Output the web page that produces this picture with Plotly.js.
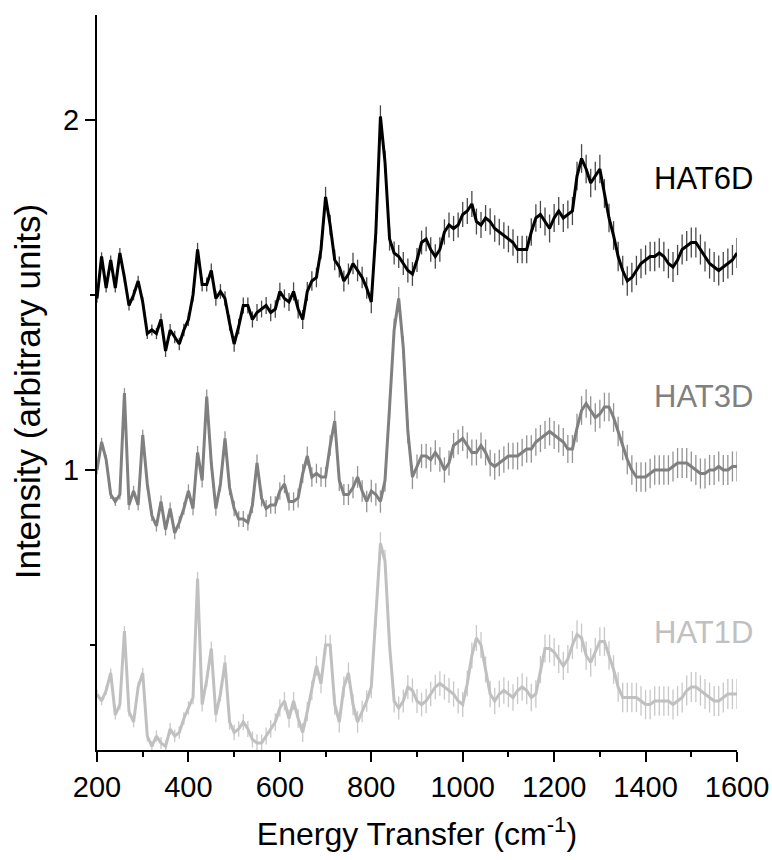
<!DOCTYPE html>
<html>
<head>
<meta charset="utf-8">
<script src="https://cdn.plot.ly/plotly-3.0.1.min.js"></script>
<style>html,body{margin:0;padding:0;background:#fff;}#chart{width:772px;height:860px;}</style>
</head>
<body>
<div id="chart"></div>
<script>
// Energy transfer grid (cm^-1), 200 .. 1600 step 10
const energy = [200,210,220,230,240,250,260,270,280,290,
300,310,320,330,340,350,360,370,380,390,
400,410,420,430,440,450,460,470,480,490,
500,510,520,530,540,550,560,570,580,590,
600,610,620,630,640,650,660,670,680,690,
700,710,720,730,740,750,760,770,780,790,
800,810,820,830,840,850,860,870,880,890,
900,910,920,930,940,950,960,970,980,990,
1000,1010,1020,1030,1040,1050,1060,1070,1080,1090,
1100,1110,1120,1130,1140,1150,1160,1170,1180,1190,
1200,1210,1220,1230,1240,1250,1260,1270,1280,1290,
1300,1310,1320,1330,1340,1350,1360,1370,1380,1390,
1400,1410,1420,1430,1440,1450,1460,1470,1480,1490,
1500,1510,1520,1530,1540,1550,1560,1570,1580,1590,
1600];

const hat6d = [1.49,1.61,1.52,1.60,1.52,1.62,1.55,1.47,1.50,1.54,
1.48,1.39,1.40,1.39,1.43,1.34,1.40,1.38,1.36,1.40,
1.43,1.50,1.63,1.53,1.53,1.57,1.49,1.51,1.49,1.42,
1.36,1.41,1.47,1.47,1.43,1.45,1.46,1.47,1.45,1.46,
1.51,1.49,1.48,1.51,1.46,1.43,1.51,1.54,1.55,1.63,
1.78,1.70,1.60,1.58,1.54,1.56,1.59,1.57,1.55,1.52,
1.48,1.68,2.01,1.88,1.66,1.62,1.61,1.59,1.57,1.56,
1.60,1.65,1.66,1.63,1.61,1.63,1.68,1.70,1.69,1.70,
1.73,1.74,1.76,1.71,1.70,1.72,1.71,1.69,1.68,1.67,
1.66,1.65,1.63,1.63,1.63,1.68,1.72,1.73,1.71,1.69,
1.72,1.74,1.72,1.73,1.74,1.84,1.89,1.86,1.82,1.84,
1.86,1.79,1.72,1.67,1.61,1.57,1.54,1.55,1.57,1.59,
1.60,1.61,1.61,1.62,1.61,1.59,1.58,1.60,1.63,1.64,
1.65,1.65,1.63,1.61,1.59,1.58,1.57,1.58,1.59,1.60,
1.62];

const hat3d = [1.00,1.08,1.03,0.93,0.91,0.93,1.22,0.90,0.94,0.90,
1.10,0.96,0.87,0.84,0.91,0.83,0.89,0.82,0.85,0.89,
0.94,0.89,1.05,0.97,1.21,1.02,0.89,0.96,1.09,0.95,
0.89,0.86,0.86,0.85,0.90,1.02,0.92,0.89,0.90,0.90,
0.94,0.96,0.91,0.91,0.92,0.99,1.04,0.98,0.99,0.98,
0.98,1.07,1.14,0.97,0.93,0.93,0.95,0.98,0.94,0.91,
0.94,0.93,0.91,0.97,1.18,1.40,1.49,1.35,1.11,0.98,
1.01,1.04,1.04,1.03,1.05,1.03,1.00,1.02,1.07,1.08,
1.09,1.07,1.05,1.05,1.07,1.05,1.02,1.01,1.02,1.03,
1.04,1.04,1.04,1.05,1.06,1.06,1.08,1.09,1.10,1.11,
1.10,1.09,1.08,1.06,1.06,1.12,1.17,1.19,1.17,1.15,
1.16,1.18,1.18,1.15,1.11,1.07,1.03,1.00,0.98,0.98,
0.98,0.99,1.00,1.00,1.00,1.00,1.01,1.02,1.02,1.02,
1.01,1.00,0.99,0.99,1.00,1.00,1.01,1.00,1.00,1.01,
1.01];

const hat1d = [0.36,0.34,0.37,0.42,0.30,0.33,0.54,0.31,0.28,0.38,
0.42,0.24,0.21,0.24,0.22,0.21,0.26,0.24,0.25,0.29,
0.32,0.35,0.69,0.33,0.40,0.49,0.30,0.36,0.45,0.28,
0.25,0.26,0.28,0.26,0.23,0.22,0.22,0.24,0.26,0.28,
0.32,0.34,0.29,0.34,0.29,0.25,0.31,0.37,0.44,0.39,
0.50,0.50,0.33,0.28,0.38,0.42,0.33,0.28,0.31,0.34,
0.38,0.58,0.79,0.74,0.50,0.34,0.32,0.34,0.38,0.37,
0.34,0.33,0.34,0.36,0.38,0.39,0.38,0.37,0.36,0.34,
0.33,0.39,0.47,0.52,0.50,0.43,0.36,0.34,0.36,0.37,
0.36,0.35,0.37,0.38,0.37,0.35,0.36,0.43,0.49,0.49,
0.48,0.46,0.44,0.46,0.50,0.53,0.52,0.47,0.45,0.48,
0.51,0.51,0.47,0.43,0.38,0.35,0.35,0.35,0.35,0.34,
0.33,0.33,0.34,0.34,0.34,0.34,0.33,0.34,0.35,0.37,
0.38,0.38,0.37,0.36,0.35,0.34,0.34,0.35,0.36,0.36,
0.36];

// Error bar half-lengths (shared)
const errs = [0.012,0.012,0.013,0.013,0.013,0.014,0.014,0.014,0.015,0.015,
0.015,0.016,0.016,0.016,0.017,0.017,0.017,0.018,0.018,0.018,
0.019,0.019,0.019,0.020,0.020,0.020,0.021,0.021,0.021,0.022,
0.022,0.022,0.023,0.023,0.023,0.024,0.024,0.024,0.025,0.025,
0.025,0.026,0.026,0.026,0.027,0.027,0.027,0.028,0.028,0.028,
0.029,0.029,0.029,0.030,0.030,0.030,0.031,0.031,0.031,0.031,
0.032,0.032,0.032,0.032,0.033,0.033,0.033,0.033,0.034,0.034,
0.034,0.034,0.035,0.035,0.035,0.035,0.036,0.036,0.036,0.036,
0.036,0.037,0.037,0.037,0.037,0.037,0.038,0.038,0.038,0.038,
0.038,0.038,0.039,0.039,0.039,0.039,0.039,0.039,0.040,0.040,
0.040,0.040,0.040,0.040,0.040,0.041,0.041,0.041,0.041,0.041,
0.041,0.041,0.041,0.041,0.042,0.042,0.042,0.042,0.042,0.042,
0.042,0.042,0.042,0.042,0.042,0.042,0.043,0.043,0.043,0.043,
0.043,0.043,0.043,0.043,0.043,0.043,0.043,0.043,0.043,0.043,
0.043];

const seriesNames = ["HAT1D","HAT3D","HAT6D"];
const seriesData = [hat1d, hat3d, hat6d];
const lineColors = ["#c0c0c0","#808080","#000000"];
const barColors = ["#c8c8c8","#949494","#4a4a4a"];
const labelY = [0.537, 1.211, 1.834];
const yTitle = "Intensity (arbitrary units)";
const xTitle = "Energy Transfer (cm<sup>-1</sup>)";

const FONT = "Liberation Sans, Arial, sans-serif";

const traces = seriesData.map((vals, i) => ({
  type: "scatter",
  mode: "lines",
  name: seriesNames[i],
  x: energy,
  y: vals,
  line: {color: lineColors[i], width: 3},
  error_y: {type: "data", array: errs, visible: true, thickness: 1.3, width: 0, color: barColors[i]},
  hoverinfo: "x+y"
}));

const annotations = seriesNames.map((n, i) => ({
  x: 1414, y: labelY[i], xref: "x", yref: "y",
  text: n, showarrow: false, xanchor: "left", yanchor: "middle",
  font: {family: FONT, size: 31, color: lineColors[i]}
}));
annotations.push({
  xref: "paper", yref: "paper", x: -0.109, y: 0.487,
  text: yTitle, textangle: -90, showarrow: false,
  xanchor: "center", yanchor: "middle",
  font: {family: FONT, size: 35, color: "#000"}
});

const layout = {
  width: 772, height: 860,
  margin: {l: 97, r: 35, t: 15, b: 110},
  paper_bgcolor: "#fff", plot_bgcolor: "#fff",
  showlegend: false,
  font: {family: FONT, color: "#000"},
  xaxis: {
    range: [200, 1600], tick0: 200, dtick: 200,
    showline: true, linecolor: "#000", linewidth: 2,
    ticks: "outside", ticklen: 10, tickwidth: 2, tickcolor: "#000",
    minor: {dtick: 100, tick0: 200, ticks: "outside", ticklen: 5, tickwidth: 2, tickcolor: "#000"},
    showgrid: false, zeroline: false,
    tickfont: {family: FONT, size: 29, color: "#000"},
    title: {text: xTitle, font: {family: FONT, size: 32, color: "#000"}, standoff: 21}
  },
  yaxis: {
    range: [0.2, 2.3], tick0: 0, dtick: 1,
    showline: true, linecolor: "#000", linewidth: 2,
    ticks: "outside", ticklen: 10, tickwidth: 2, tickcolor: "#000",
    minor: {dtick: 0.5, tick0: 0, ticks: "outside", ticklen: 5, tickwidth: 2, tickcolor: "#000"},
    showgrid: false, zeroline: false,
    tickfont: {family: FONT, size: 29, color: "#000"}
  },
  annotations: annotations
};

Plotly.newPlot("chart", traces, layout, {displayModeBar: false, staticPlot: true});
</script>
</body>
</html>
